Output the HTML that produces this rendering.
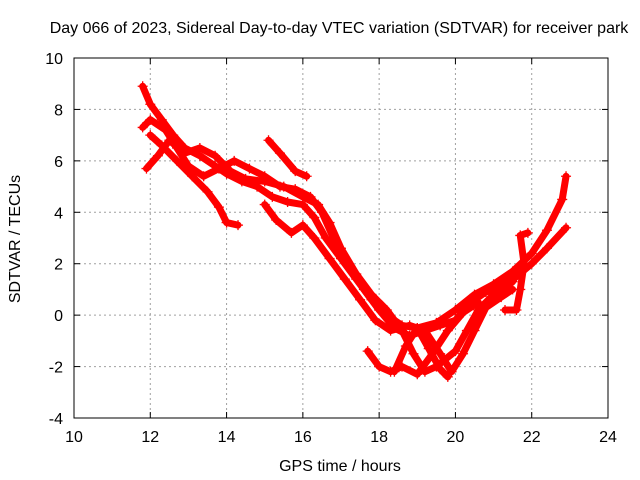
<!DOCTYPE html>
<html><head><meta charset="utf-8"><style>
body{margin:0;background:#fff;}
svg{display:block;font-family:"Liberation Sans",sans-serif;font-size:16px;}
</style></head><body>
<svg id="chart" width="640" height="480">
<text x="339" y="33" text-anchor="middle">Day 066 of 2023, Sidereal Day-to-day VTEC variation (SDTVAR) for receiver park</text>
<text x="340" y="471" text-anchor="middle">GPS time / hours</text>
<text transform="translate(20,239) rotate(-90)" text-anchor="middle">SDTVAR / TECUs</text>
<g id="grid"></g>
<g id="axes"></g>
<g id="series"></g>
<rect x="74" y="58" width="534" height="360" fill="none" stroke="#000" stroke-width="1"/>
</svg>
<script>
const xTicks=[10,12,14,16,18,20,22,24];
const yTicks=[-4,-2,0,2,4,6,8,10];
const track1=[[11.8,8.9],[12.0,8.2],[12.3,7.6],[12.6,7.0],[12.9,6.5],[13.3,6.2],[13.7,5.8],[14.0,5.5],[14.4,5.2],[14.8,5.0],[15.2,4.6],[15.6,4.4],[16.0,4.3],[16.3,3.8],[16.6,3.0],[17.0,2.2],[17.4,1.4],[17.8,0.6],[18.2,0.0],[18.6,-0.4],[19.0,-0.5],[19.5,-0.3],[20.0,0.2],[20.5,0.8],[21.0,1.2],[21.5,1.7],[22.0,2.4],[22.4,3.3],[22.8,4.5],[22.9,5.4]];
const track2=[[11.8,7.3],[12.0,7.6],[12.4,7.2],[12.7,6.5],[13.0,5.8],[13.4,5.4],[13.8,5.7],[14.2,6.0],[14.6,5.7],[15.0,5.4],[15.4,5.0],[15.8,4.9],[16.2,4.6],[16.5,4.0],[16.8,3.0],[17.2,2.0],[17.6,1.0],[18.0,0.2],[18.4,-0.5],[18.8,-0.8],[19.2,-0.6],[19.6,-0.4],[20.0,-0.2],[20.4,0.5],[20.8,0.9],[21.2,1.1],[21.6,1.5],[22.0,2.0],[22.4,2.6],[22.9,3.4]];
const track3=[[12.0,7.0],[12.3,6.6],[12.7,6.0],[13.1,5.4],[13.5,4.8],[13.8,4.2],[14.0,3.6],[14.3,3.5]];
const track4=[[15.1,6.8],[15.4,6.3],[15.8,5.6],[16.1,5.4]];
const track5=[[11.9,5.7],[12.2,6.2],[12.5,6.8],[12.9,6.3],[13.3,6.5],[13.7,6.2],[14.1,5.6],[14.5,5.3],[15.0,5.2],[15.5,5.0],[16.0,4.6],[16.4,4.3],[16.7,3.6],[17.0,2.6],[17.4,1.6],[17.8,0.8],[18.2,0.2],[18.6,-0.6],[18.9,-1.5],[19.2,-2.2],[19.5,-2.0],[20.0,-1.4],[20.3,-0.6],[20.6,0.2],[21.0,0.8],[21.5,1.3]];
const track6=[[15.0,4.3],[15.3,3.7],[15.7,3.2],[16.0,3.5],[16.3,3.0],[16.7,2.2],[17.1,1.4],[17.5,0.6],[17.9,-0.2],[18.3,-0.6],[18.8,-0.4],[19.2,-0.6],[19.6,-1.5],[19.9,-2.2],[20.2,-1.5],[20.5,-0.6],[20.8,0.3],[21.2,0.7],[21.5,1.0]];
const track7=[[17.7,-1.4],[18.0,-2.0],[18.3,-2.2],[18.6,-2.0],[19.0,-2.3],[19.4,-1.5],[19.8,-0.6],[20.2,0.1],[20.6,0.5]];
const track8=[[18.4,-2.2],[18.7,-1.2],[19.0,-0.5],[19.3,-1.3],[19.6,-2.1],[19.8,-2.4]];
const track9=[[21.3,0.2],[21.6,0.2],[21.7,1.0],[21.8,2.0],[21.7,3.1],[21.9,3.2]];
const tracks=[track1,track2,track3,track4,track5,track6,track7,track8,track9];

const NS='http://www.w3.org/2000/svg';
const X=h=>74+(h-10)*(534/14);
const Y=v=>58+(10-v)*(360/14);
function mk(tag,attrs,parent){const e=document.createElementNS(NS,tag);for(const k in attrs)e.setAttribute(k,attrs[k]);parent.appendChild(e);return e;}
const grid=document.getElementById('grid'),axes=document.getElementById('axes'),series=document.getElementById('series');
xTicks.forEach(t=>{
  const x=X(t);
  if(t>10&&t<24){const l=mk('line',{x1:x,x2:x,y1:58,y2:418,stroke:'#a0a0a0','stroke-dasharray':'2,3'},grid);
  
  }
  mk('line',{x1:x,x2:x,y1:418,y2:412,stroke:'#000'},axes);
  mk('line',{x1:x,x2:x,y1:58,y2:64,stroke:'#000'},axes);
  const tx=mk('text',{x:x,y:442,'text-anchor':'middle'},axes);tx.textContent=t;
  
  
});
yTicks.forEach(t=>{
  const y=Y(t);
  if(t>-4&&t<10){const l=mk('line',{x1:74,x2:608,y1:y,y2:y,stroke:'#a0a0a0','stroke-dasharray':'2,3'},grid);
  
  }
  mk('line',{x1:74,x2:80,y1:y,y2:y,stroke:'#000'},axes);
  mk('line',{x1:608,x2:602,y1:y,y2:y,stroke:'#000'},axes);
  const tx=mk('text',{x:63,y:y+6,'text-anchor':'end'},axes);tx.textContent=t;
  
  
});
tracks.forEach((tr,i)=>{
  const p=mk('polyline',{points:tr.map(d=>X(d[0])+','+Y(d[1])).join(' '),fill:'none',stroke:'#ff0000','stroke-width':7,'stroke-linejoin':'round','stroke-linecap':'round'},series);
  
  
  tr.forEach(d=>{
    const x=X(d[0]),y=Y(d[1]);
    const m=mk('path',{d:`M${x-5},${y}H${x+5}M${x},${y-5}V${y+5}`,stroke:'#ff0000','stroke-width':1.3},series);
    
    
  });
});
</script>
</body></html>
